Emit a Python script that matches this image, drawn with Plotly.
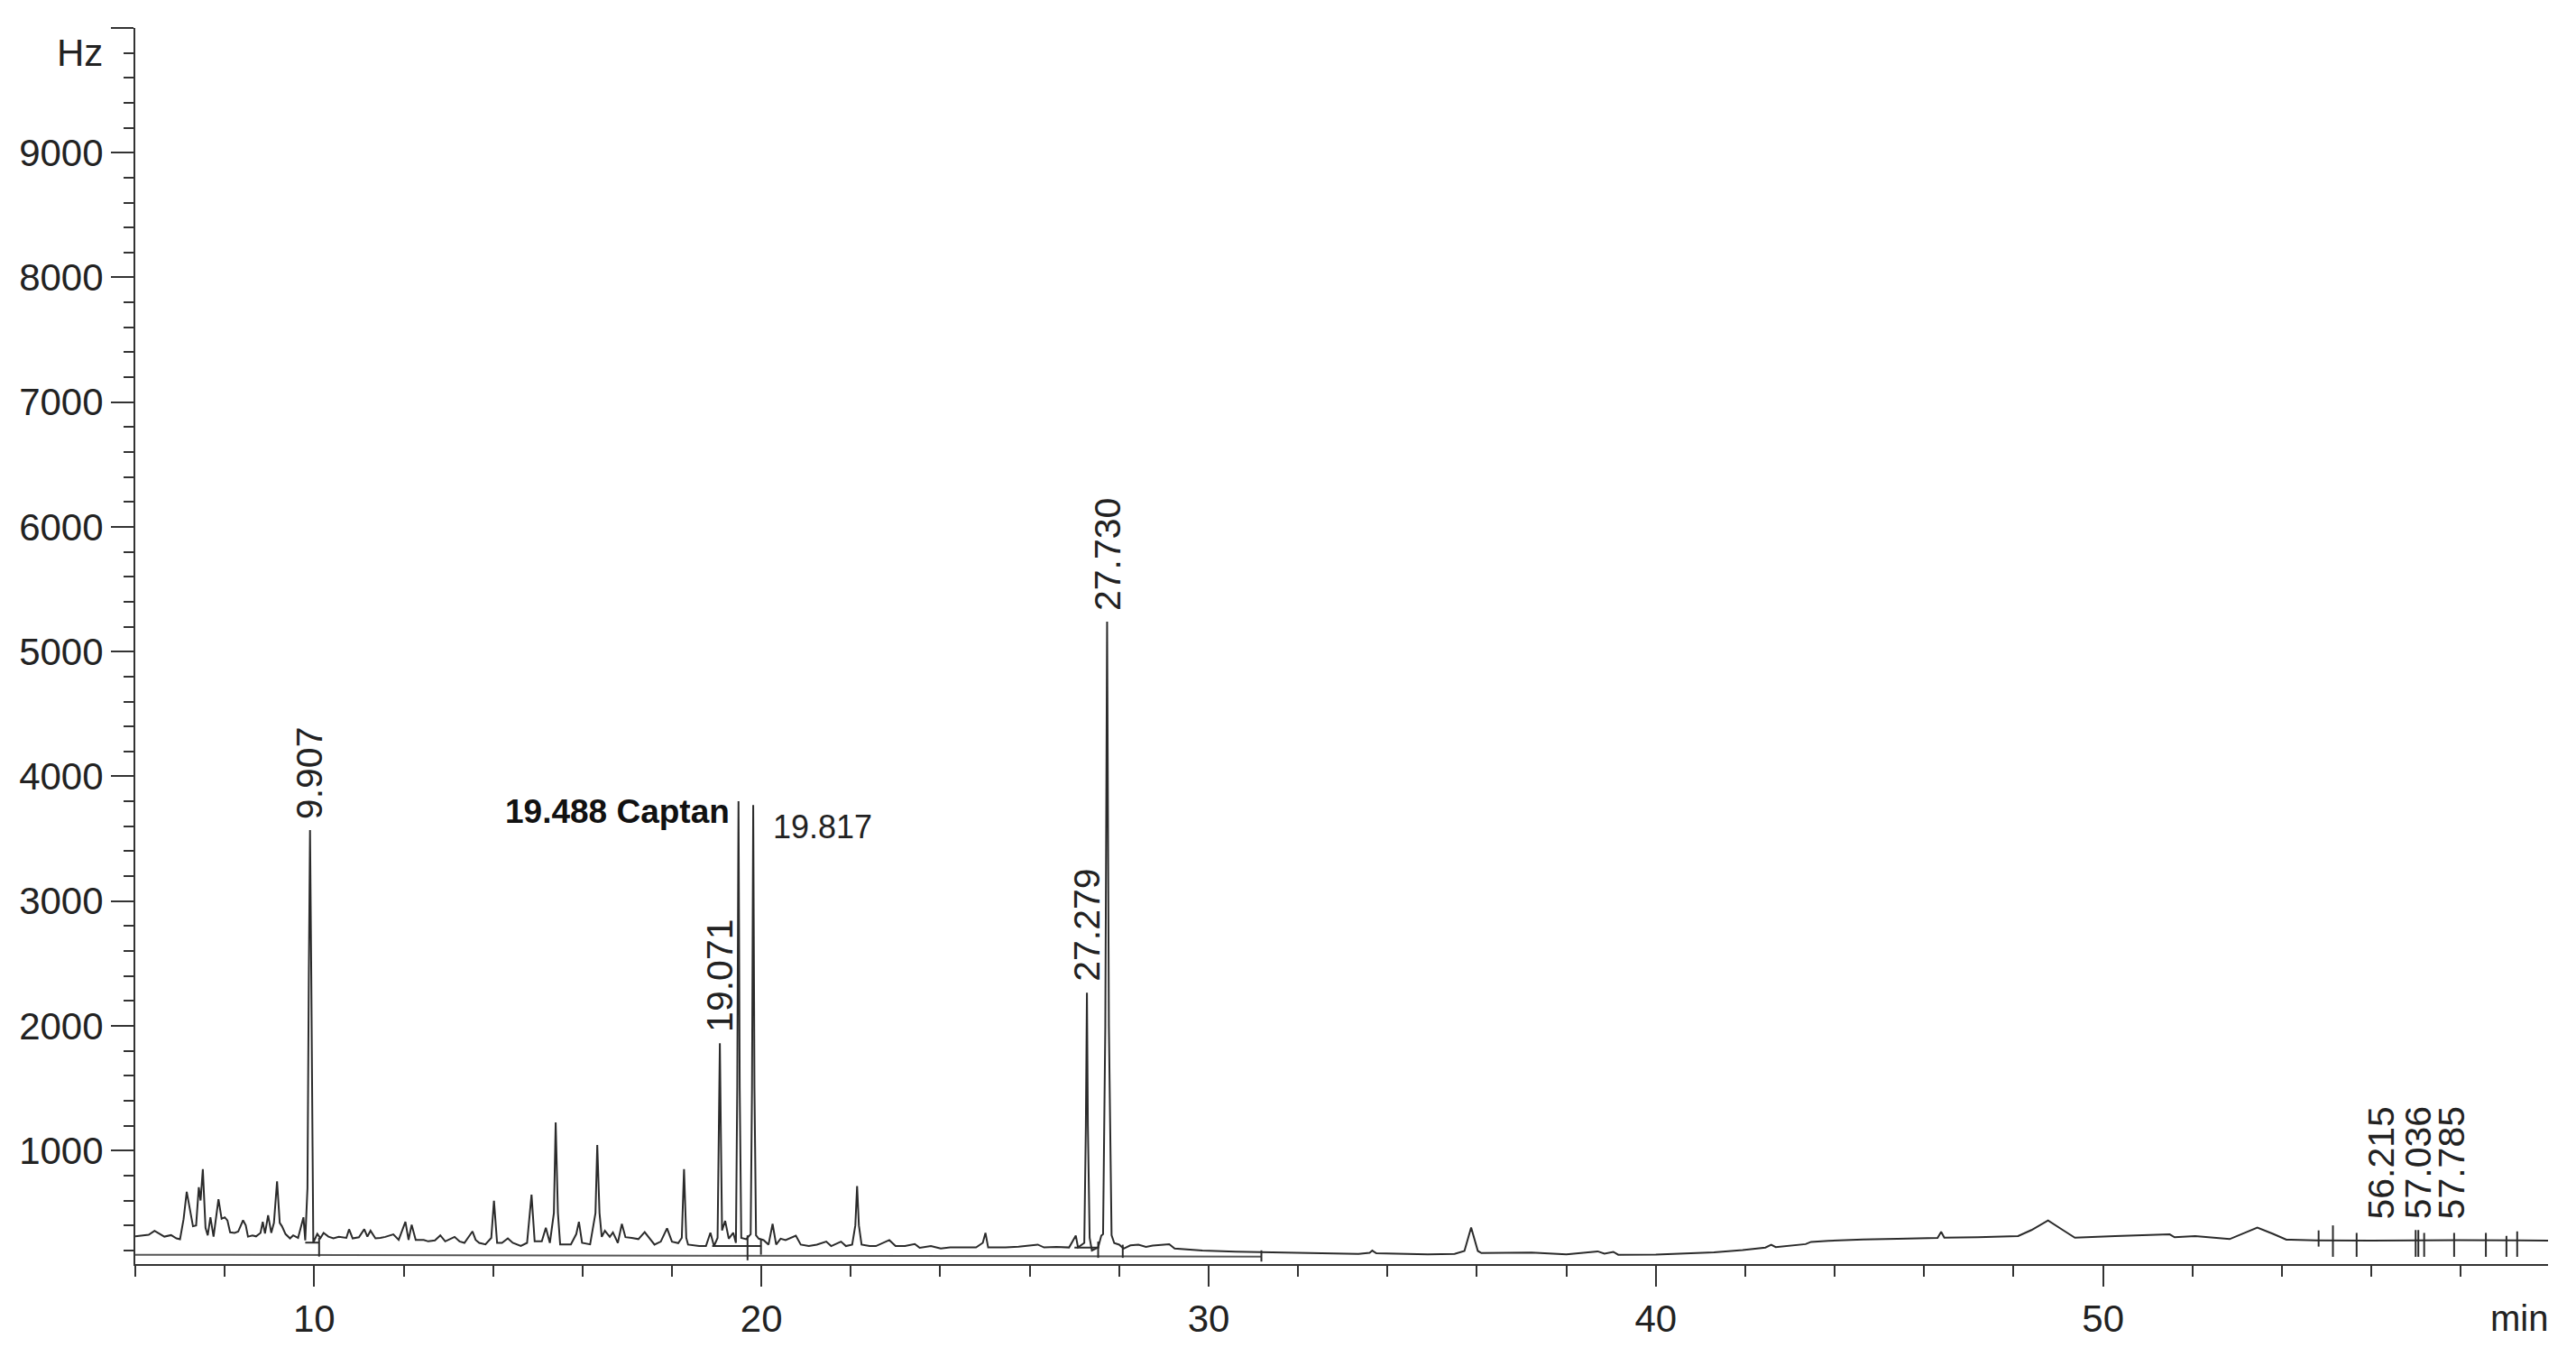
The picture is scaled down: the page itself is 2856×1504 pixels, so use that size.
import plotly.graph_objects as go

# ---------------- data ----------------
trace_min = [
    6.00, 6.15, 6.30, 6.43, 6.55, 6.65, 6.80, 6.92, 7.00, 7.08, 7.15, 7.22, 7.29, 7.36,
    7.42, 7.46, 7.51, 7.57, 7.62, 7.68, 7.75, 7.86, 7.93, 8.00, 8.06, 8.12, 8.22, 8.30,
    8.41, 8.47, 8.52, 8.62, 8.70, 8.80, 8.85, 8.90, 8.97, 9.04, 9.10, 9.17, 9.23, 9.28,
    9.36, 9.46, 9.53, 9.64, 9.76, 9.80, 9.85, 9.88, 9.907, 9.935, 9.96, 9.98,
    10.07, 10.14, 10.21, 10.32, 10.43, 10.55, 10.72, 10.78, 10.86, 11.00, 11.12, 11.19,
    11.26, 11.37, 11.48, 11.59, 11.77, 11.89, 12.04, 12.11, 12.18, 12.27, 12.45, 12.55,
    12.70, 12.82, 12.93, 13.14, 13.25, 13.36, 13.54, 13.61, 13.69, 13.83, 13.96, 14.02,
    14.09, 14.20, 14.33, 14.44, 14.62, 14.76, 14.86, 14.93, 15.09, 15.18, 15.27, 15.36,
    15.40, 15.45, 15.50, 15.74, 15.86, 15.92, 15.99, 16.17, 16.29, 16.33, 16.38, 16.43,
    16.50, 16.61, 16.68, 16.79, 16.88, 16.96, 17.10, 17.25, 17.39, 17.50, 17.61, 17.75,
    17.89, 18.00, 18.14, 18.22, 18.27, 18.32, 18.36, 18.61, 18.76, 18.86, 18.94,
    19.02, 19.05, 19.071, 19.095, 19.12, 19.19, 19.27, 19.37, 19.43, 19.46, 19.488,
    19.515, 19.55, 19.66, 19.73, 19.76, 19.79, 19.817, 19.845, 19.88, 19.94, 20.05,
    20.16, 20.25, 20.33, 20.43, 20.54, 20.66, 20.77, 20.88, 21.06, 21.24, 21.45, 21.56,
    21.78, 21.89, 22.03, 22.10, 22.14, 22.18, 22.24, 22.42, 22.56, 22.86, 23.00, 23.21,
    23.43, 23.54, 23.79, 24.01, 24.22, 24.50, 24.80, 24.95, 25.01, 25.07, 25.46, 25.75,
    26.18, 26.32, 26.60, 26.88, 27.03, 27.08, 27.22, 27.255, 27.279, 27.30, 27.34, 27.39,
    27.53, 27.60, 27.64, 27.69, 27.730, 27.77, 27.83, 27.89, 28.00, 28.10, 28.25, 28.43,
    28.60, 28.75, 28.93, 29.12, 29.24, 29.50, 29.86, 30.60, 31.40, 32.57, 33.35, 33.60,
    33.66, 33.75, 34.90, 35.50, 35.72, 35.87, 36.02, 36.10, 36.84, 37.22, 38.00, 38.60,
    38.70, 38.85, 39.05, 39.16, 40.00, 40.65, 41.30, 41.94, 42.45, 42.58, 42.68, 43.35,
    43.47, 43.86, 44.63, 45.40, 46.30, 46.38, 46.45, 47.20, 48.10, 48.40, 48.77, 49.10,
    49.37, 50.27, 50.90, 51.49, 51.60, 52.06, 52.83, 53.05, 53.45, 53.80, 54.10, 54.76,
    56.00, 57.96, 59.95,
]
trace_hz = [
    313, 318, 325, 357, 330, 310, 322, 296, 289, 450, 670, 520, 393, 400,
    706, 600, 851, 380, 320, 465, 310, 610, 453, 465, 440, 345, 340, 350,
    441, 400, 310, 320, 312, 340, 429, 335, 482, 340, 420, 754, 420, 393,
    330, 296, 320, 300, 465, 280, 700, 2400, 3570, 2400, 700, 262,
    332, 298, 340, 310, 296, 308, 300, 369, 296, 305, 369, 310,
    357, 296, 300, 308, 328, 284, 429, 284, 405, 284, 284, 272,
    280, 320, 272, 308, 272, 260, 352, 284, 260, 248, 300, 598,
    260, 260, 296, 260, 236, 260, 646, 272, 272, 381, 260, 500,
    1225, 500, 248, 248, 330, 429, 260, 248, 500, 1044, 500, 308,
    357, 308, 344, 260, 412, 306, 300, 290, 346, 294, 246, 270,
    377, 270, 258, 300, 851, 300, 246, 234, 234, 341, 234,
    300, 1100, 1860, 1100, 360, 436, 294, 341, 260, 1500, 3800,
    1500, 300, 290, 318, 330, 1500, 3770, 1500, 320, 294, 282,
    246, 412, 246, 294, 282, 300, 318, 246, 234, 246, 270, 234,
    270, 234, 246, 400, 715, 400, 246, 234, 234, 282, 234, 234,
    251, 220, 234, 215, 223, 223, 223, 260, 340, 223, 223, 230,
    246, 223, 228, 223, 318, 223, 260, 1200, 2266, 1200, 300, 199,
    223, 318, 330, 2000, 5240, 2000, 320, 258, 246, 214, 240, 245,
    228, 238, 245, 249, 214, 205, 198, 190, 184, 177, 172, 180,
    198, 176, 168, 172, 195, 383, 195, 178, 178, 183, 168, 184,
    192, 173, 188, 165, 166, 175, 184, 202, 222, 245, 226, 250,
    268, 276, 288, 292, 300, 348, 302, 306, 314, 363, 440, 363,
    301, 315, 319, 328, 305, 315, 290, 321, 383, 332, 286, 280,
    278, 282, 278,
]

# integration baseline drawn under the early part of the run
baseline_min = [6.0, 31.18]
baseline_hz = [165, 150]

# short peak-baseline segments (start, end, level)
drop_start = [9.80, 18.90, 27.00]
drop_end = [10.11, 20.00, 27.55]
drop_hz = [262, 234, 222]

# vertical peak-event markers (time, top, bottom)
event_min = [10.11, 19.69, 19.99, 27.53, 28.08, 31.18,
             54.82, 55.14, 55.67, 56.99, 57.05, 57.18, 57.85, 58.56, 59.02, 59.26]
event_top = [300, 320, 290, 270, 245, 200,
             360, 400, 340, 363, 363, 340, 340, 340, 316, 352]
event_bottom = [150, 120, 165, 140, 140, 110,
                230, 148, 148, 148, 148, 148, 148, 148, 148, 148]

# vertical retention-time labels
vlabel_text = ["9.907", "19.071", "27.279", "27.730", "56.215", "57.036", "57.785"]
vlabel_min = [9.907, 19.071, 27.279, 27.730, 56.215, 57.036, 57.785]
vlabel_hz = [3570, 1860, 2266, 5240, 363, 363, 363]

# horizontal labels
captan_text = "19.488 Captan"
captan_min = 19.488
captan_hz = 3720
peak2_text = "19.817"
peak2_min = 19.817
peak2_hz = 3597

x_ticks = [10, 20, 30, 40, 50]
y_ticks = [1000, 2000, 3000, 4000, 5000, 6000, 7000, 8000, 9000, 10000]
y_ticktext = ["1000", "2000", "3000", "4000", "5000", "6000", "7000", "8000", "9000", ""]

# ---------------- figure ----------------
FONT = "Liberation Sans, Arial, sans-serif"
INK = "#2b2b2b"

fig = go.Figure()

fig.add_trace(go.Scatter(x=trace_min, y=trace_hz, mode="lines",
                         line=dict(color=INK, width=2), hoverinfo="skip", showlegend=False))

fig.add_trace(go.Scatter(x=baseline_min, y=baseline_hz, mode="lines",
                         line=dict(color="#555555", width=2), hoverinfo="skip", showlegend=False))

dx, dy = [], []
for s, e, h in zip(drop_start, drop_end, drop_hz):
    dx += [s, e, None]
    dy += [h, h, None]
fig.add_trace(go.Scatter(x=dx, y=dy, mode="lines", line=dict(color=INK, width=2),
                         hoverinfo="skip", showlegend=False))

ex, ey = [], []
for t, a, b in zip(event_min, event_top, event_bottom):
    ex += [t, t, None]
    ey += [a, b, None]
fig.add_trace(go.Scatter(x=ex, y=ey, mode="lines", line=dict(color=INK, width=2),
                         hoverinfo="skip", showlegend=False))

annotations = []
for txt, xm, yh in zip(vlabel_text, vlabel_min, vlabel_hz):
    annotations.append(dict(x=xm, y=yh, text=txt, textangle=-90, showarrow=False,
                            xanchor="center", yanchor="bottom", yshift=10,
                            font=dict(family=FONT, size=41, color="#222222")))
annotations.append(dict(x=captan_min, y=captan_hz, text="<b>" + captan_text + "</b>",
                        showarrow=False, xanchor="right", yanchor="middle", xshift=-8,
                        font=dict(family=FONT, size=37, color="#111111")))
annotations.append(dict(x=peak2_min, y=peak2_hz, text=peak2_text,
                        showarrow=False, xanchor="left", yanchor="middle", xshift=20,
                        font=dict(family=FONT, size=36, color="#222222")))
annotations.append(dict(xref="paper", x=0, y=9800, text="Hz", showarrow=False,
                        xanchor="right", yanchor="middle", xshift=-34,
                        font=dict(family=FONT, size=42, color="#222222")))
annotations.append(dict(xref="paper", yref="paper", x=1, y=-0.044, text="min",
                        showarrow=False, xanchor="right", yanchor="middle", xshift=2,
                        font=dict(family=FONT, size=40, color="#222222")))

fig.update_layout(
    width=2856, height=1504,
    margin=dict(l=150, r=31, t=31, b=103),
    paper_bgcolor="white", plot_bgcolor="white",
    showlegend=False,
    annotations=annotations,
    font=dict(family=FONT, size=42, color="#222222"),
)
fig.update_xaxes(
    range=[6, 59.95], showgrid=False, zeroline=False,
    showline=True, linecolor="#333333", linewidth=2,
    ticks="outside", tickvals=x_ticks, ticklen=23, tickwidth=2, tickcolor="#333333",
    tickfont=dict(family=FONT, size=42, color="#222222"),
    minor=dict(dtick=2, tick0=0, ticks="outside", ticklen=12, tickwidth=2, tickcolor="#333333"),
)
fig.update_yaxes(
    range=[90, 10000], showgrid=False, zeroline=False,
    showline=True, linecolor="#333333", linewidth=2,
    ticks="outside", tickvals=y_ticks, ticktext=y_ticktext, ticklen=25, tickwidth=2,
    tickcolor="#333333",
    tickfont=dict(family=FONT, size=42, color="#222222"),
    minor=dict(dtick=200, tick0=0, ticks="outside", ticklen=11, tickwidth=2, tickcolor="#333333"),
)

fig.write_html("out.html", config={"displayModeBar": False},
               post_script="document.body.style.margin='0';")
